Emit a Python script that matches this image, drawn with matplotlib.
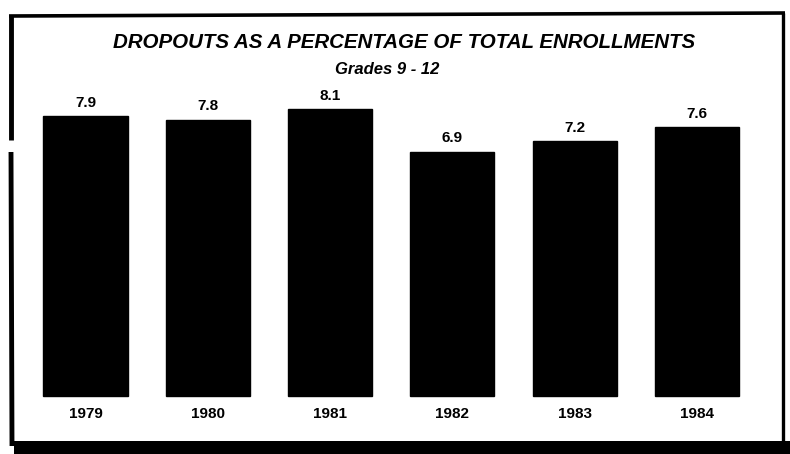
import matplotlib
matplotlib.use("Agg")
import matplotlib.pyplot as plt
from matplotlib.patches import Rectangle

years = ["1979", "1980", "1981", "1982", "1983", "1984"]
values = [7.9, 7.8, 8.1, 6.9, 7.2, 7.6]
title = "DROPOUTS AS A PERCENTAGE OF TOTAL ENROLLMENTS"
subtitle = "Grades 9 - 12"

plt.rcParams['font.family'] = ['Liberation Sans', 'DejaVu Sans']

W, H = 790, 454
fig = plt.figure(figsize=(W / 100, H / 100), dpi=100)
fig.patch.set_facecolor("white")

# frame overlay in pixel coordinates
fr = fig.add_axes([0, 0, 1, 1])
fr.set_xlim(0, W)
fr.set_ylim(H, 0)
fr.axis("off")
fr.plot([9, 785], [16, 13], color="black", lw=2.6, solid_capstyle="butt")
fr.plot([11, 11], [15, 140], color="black", lw=3.5, solid_capstyle="butt")
fr.plot([11, 12], [152, 446], color="black", lw=3.5, solid_capstyle="butt")
fr.plot([783, 783], [13, 442], color="black", lw=2.4, solid_capstyle="butt")
fr.add_patch(Rectangle((14, 441), W - 14, H - 441, color="black", lw=0))

ax = fig.add_axes([0, 0, 1, 1], facecolor="none")
x = list(range(len(years)))
ax.bar(x, values, width=0.687, color="black", edgecolor="black")
ax.set_xlim(-0.699, 5.760)
ax.set_ylim(-1.638, 11.186)
ax.axis("off")

for xi, v in zip(x, values):
    ax.text(xi, v + 0.38, f"{v:.1f}", ha="center", va="center",
            fontsize=11, fontweight="bold", color="black")
for xi, yr in zip(x, years):
    ax.text(xi, -0.50, yr, ha="center", va="center",
            fontsize=11, fontweight="bold", color="black")

fig.text(0.511, 1 - 43 / H, title, ha="center", va="center",
         fontsize=14.8, fontweight="bold", fontstyle="italic", color="black")
fig.text(0.49, 1 - 70 / H, subtitle, ha="center", va="center",
         fontsize=12, fontweight="bold", fontstyle="italic", color="black")

fig.savefig("out.png", dpi=100, facecolor="white")
